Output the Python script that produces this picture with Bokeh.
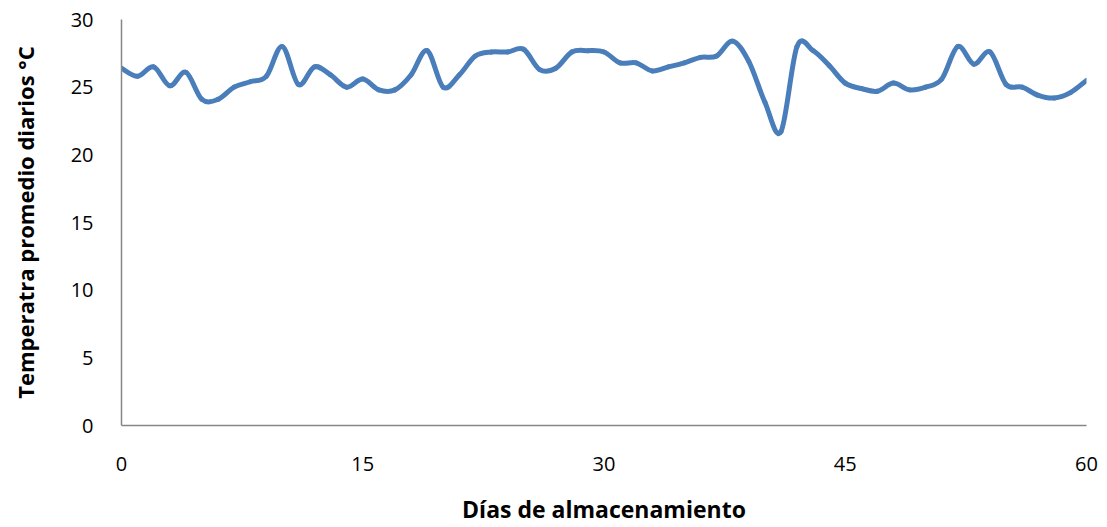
import numpy as np
from bokeh.plotting import figure
from bokeh.models import ColumnDataSource, Range1d, FixedTicker
from bokeh.embed import file_html
from bokeh.resources import INLINE

days = list(range(0, 61))
temps = [26.4, 25.8, 26.5, 25.1, 26.1, 24.1, 24.1, 25.0, 25.4, 25.8,
         28.0, 25.2, 26.5, 25.9, 25.0, 25.6, 24.8, 24.8, 25.9, 27.7,
         25.0, 25.9, 27.3, 27.6, 27.6, 27.8, 26.3, 26.4, 27.6, 27.7,
         27.6, 26.8, 26.8, 26.2, 26.5, 26.8, 27.2, 27.3, 28.4, 26.9,
         23.9, 21.7, 28.0, 27.7, 26.6, 25.3, 24.9, 24.7, 25.3, 24.8,
         25.0, 25.6, 28.0, 26.7, 27.6, 25.2, 25.0, 24.4, 24.2, 24.6,
         25.5]
x_ticks = [0, 15, 30, 45, 60]
y_ticks = [0, 5, 10, 15, 20, 25, 30]

# smooth line (Catmull-Rom -> cubic Bezier segments), as Excel's smoothed line
x = np.array(days, dtype=float)
y = np.array(temps, dtype=float)
xp = np.concatenate([[x[0]], x, [x[-1]]])
yp = np.concatenate([[y[0]], y, [y[-1]]])
n = len(x) - 1
src = ColumnDataSource(dict(
    x0=x[:-1], y0=y[:-1], x1=x[1:], y1=y[1:],
    cx0=x[:-1] + (xp[2:n + 2] - xp[0:n]) / 6.0,
    cy0=y[:-1] + (yp[2:n + 2] - yp[0:n]) / 6.0,
    cx1=x[1:] - (xp[3:n + 3] - xp[1:n + 1]) / 6.0,
    cy1=y[1:] - (yp[3:n + 3] - yp[1:n + 1]) / 6.0,
))

p = figure(width=1099, height=527, output_backend="svg", toolbar_location=None,
           x_range=Range1d(0, 60), y_range=Range1d(0, 30),
           min_border_left=121, min_border_right=13, min_border_top=19,
           min_border_bottom=102)
p.bezier(x0="x0", y0="y0", x1="x1", y1="y1", cx0="cx0", cy0="cy0",
         cx1="cx1", cy1="cy1", source=src, line_color="#4a7ebb",
         line_width=5, line_cap="round")

p.outline_line_color = None
p.grid.grid_line_color = None
font = "Open Sans"
for ax in (p.xaxis[0], p.yaxis[0]):
    ax.axis_line_color = "#868686"
    ax.axis_line_width = 1.5
    ax.major_tick_line_color = None
    ax.minor_tick_line_color = None
    ax.major_label_text_font = font
    ax.major_label_text_font_size = "20px"
    ax.major_label_text_color = "#000000"
    ax.axis_label_text_font = font
    ax.axis_label_text_font_style = "bold"
    ax.axis_label_text_color = "#000000"

p.xaxis.axis_label_text_font_size = "23px"
p.yaxis.axis_label_text_font_size = "22px"
p.xaxis.ticker = FixedTicker(ticks=x_ticks)
p.yaxis.ticker = FixedTicker(ticks=y_ticks)
p.xaxis.axis_label = "Días de almacenamiento"
p.yaxis.axis_label = "Temperatra promedio diarios °C"
p.xaxis.major_label_standoff = 25
p.yaxis.major_label_standoff = 22
p.xaxis.axis_label_standoff = 19
p.yaxis.axis_label_standoff = 28

open("out.html", "w").write(file_html(p, INLINE))
